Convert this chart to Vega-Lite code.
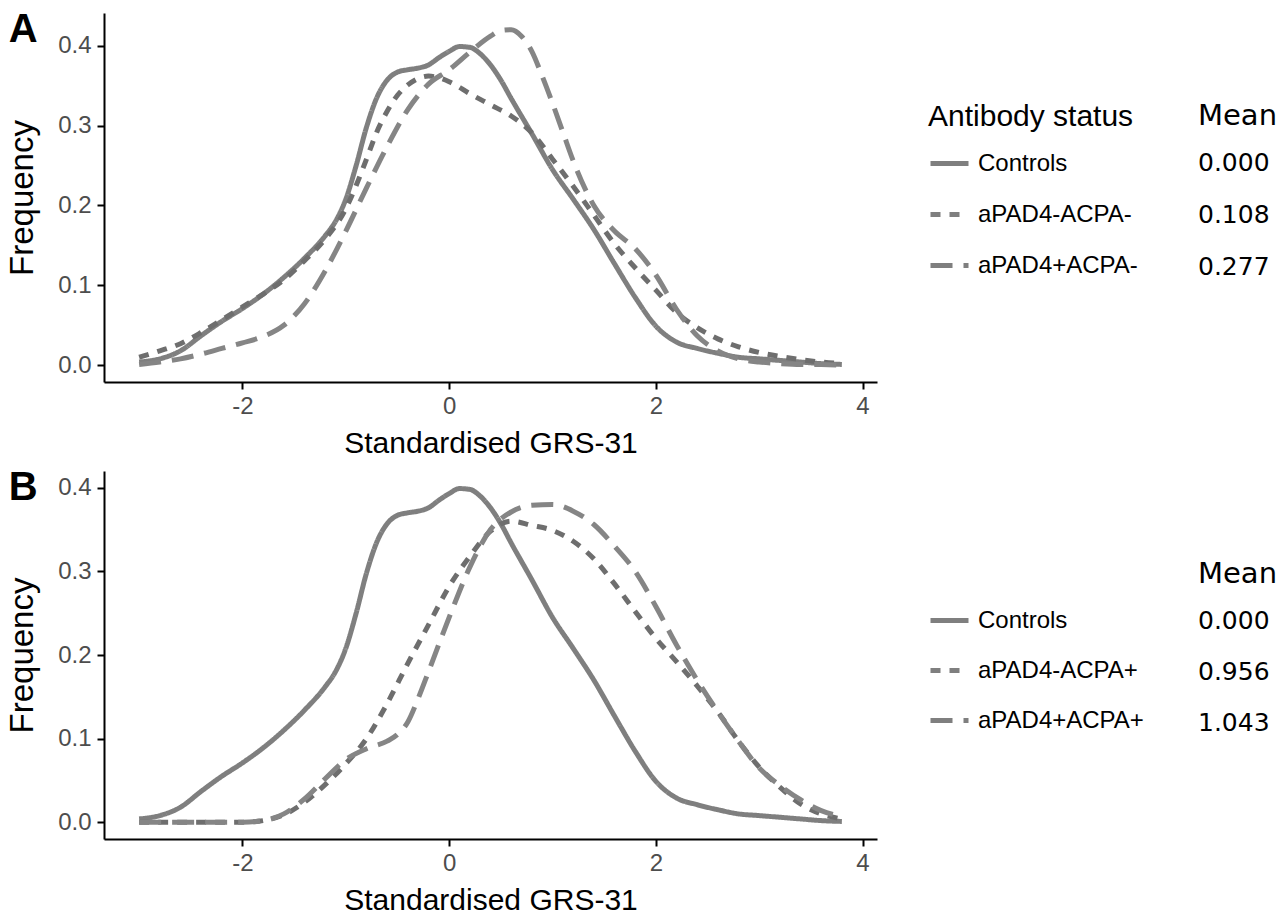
{
  "$schema": "https://vega.github.io/schema/vega-lite/v6.json",
  "background": "white",
  "padding": {"left": 6, "top": 9, "right": 0, "bottom": 0},
  "resolve": {"scale": {"y": "independent", "strokeDash": "independent", "color": "independent"}, "legend": {"strokeDash": "independent", "color": "independent"}},
  "config": {
    "view": {"stroke": null},
    "font": "Liberation Sans",
    "axis": {"domainColor": "black", "domainWidth": 2, "tickColor": "black", "tickWidth": 2, "tickSize": 7, "grid": false, "labelFont": "Liberation Sans", "labelFontSize": 24, "labelColor": "#4d4d4d", "titleFont": "Liberation Sans", "titleFontSize": 30, "titleFontWeight": "normal", "titleColor": "black"},
    "legend": {"titleFont": "Liberation Sans", "titleFontSize": 30, "titleFontWeight": "normal", "titleColor": "black", "titleLimit": 400, "labelFont": "Liberation Sans", "labelFontSize": 24, "labelColor": "black", "labelLimit": 400, "symbolType": "stroke", "symbolSize": 1444, "symbolStrokeWidth": 5, "symbolStrokeColor": "#7f7f7f", "rowPadding": 17, "titlePadding": 10, "labelOffset": 7},
    "concat": {"spacing": 9}
  },
  "datasets": {
    "meansA": [{"g": "Controls", "mean": "0.000"}, {"g": "aPAD4-ACPA-", "mean": "0.108"}, {"g": "aPAD4+ACPA-", "mean": "0.277"}],
    "meansB": [{"g": "Controls", "mean": "0.000"}, {"g": "aPAD4-ACPA+", "mean": "0.956"}, {"g": "aPAD4+ACPA+", "mean": "1.043"}],
    "curves": [
      {"p":"A","g":"Controls","x":-3.0,"y":0.004},{"p":"A","g":"Controls","x":-2.8,"y":0.008},{"p":"A","g":"Controls","x":-2.6,"y":0.018},{"p":"A","g":"Controls","x":-2.4,"y":0.037},{"p":"A","g":"Controls","x":-2.2,"y":0.055},{"p":"A","g":"Controls","x":-2.0,"y":0.071},{"p":"A","g":"Controls","x":-1.8,"y":0.089},{"p":"A","g":"Controls","x":-1.6,"y":0.110},{"p":"A","g":"Controls","x":-1.4,"y":0.134},{"p":"A","g":"Controls","x":-1.2,"y":0.162},{"p":"A","g":"Controls","x":-1.1,"y":0.180},{"p":"A","g":"Controls","x":-1.0,"y":0.208},{"p":"A","g":"Controls","x":-0.9,"y":0.250},{"p":"A","g":"Controls","x":-0.8,"y":0.298},{"p":"A","g":"Controls","x":-0.7,"y":0.335},{"p":"A","g":"Controls","x":-0.6,"y":0.357},{"p":"A","g":"Controls","x":-0.5,"y":0.367},{"p":"A","g":"Controls","x":-0.4,"y":0.370},{"p":"A","g":"Controls","x":-0.3,"y":0.372},{"p":"A","g":"Controls","x":-0.2,"y":0.376},{"p":"A","g":"Controls","x":-0.1,"y":0.385},{"p":"A","g":"Controls","x":0.0,"y":0.393},{"p":"A","g":"Controls","x":0.1,"y":0.399},{"p":"A","g":"Controls","x":0.2,"y":0.398},{"p":"A","g":"Controls","x":0.3,"y":0.390},{"p":"A","g":"Controls","x":0.4,"y":0.376},{"p":"A","g":"Controls","x":0.5,"y":0.357},{"p":"A","g":"Controls","x":0.6,"y":0.334},{"p":"A","g":"Controls","x":0.8,"y":0.290},{"p":"A","g":"Controls","x":1.0,"y":0.245},{"p":"A","g":"Controls","x":1.2,"y":0.208},{"p":"A","g":"Controls","x":1.4,"y":0.170},{"p":"A","g":"Controls","x":1.6,"y":0.127},{"p":"A","g":"Controls","x":1.8,"y":0.085},{"p":"A","g":"Controls","x":2.0,"y":0.049},{"p":"A","g":"Controls","x":2.2,"y":0.029},{"p":"A","g":"Controls","x":2.4,"y":0.021},{"p":"A","g":"Controls","x":2.6,"y":0.015},{"p":"A","g":"Controls","x":2.8,"y":0.010},{"p":"A","g":"Controls","x":3.0,"y":0.008},{"p":"A","g":"Controls","x":3.2,"y":0.006},{"p":"A","g":"Controls","x":3.4,"y":0.004},{"p":"A","g":"Controls","x":3.6,"y":0.002},{"p":"A","g":"Controls","x":3.8,"y":0.001},
      {"p":"A","g":"aPAD4-ACPA-","x":-3.0,"y":0.010},{"p":"A","g":"aPAD4-ACPA-","x":-2.8,"y":0.018},{"p":"A","g":"aPAD4-ACPA-","x":-2.6,"y":0.027},{"p":"A","g":"aPAD4-ACPA-","x":-2.4,"y":0.041},{"p":"A","g":"aPAD4-ACPA-","x":-2.2,"y":0.057},{"p":"A","g":"aPAD4-ACPA-","x":-2.0,"y":0.073},{"p":"A","g":"aPAD4-ACPA-","x":-1.8,"y":0.089},{"p":"A","g":"aPAD4-ACPA-","x":-1.6,"y":0.107},{"p":"A","g":"aPAD4-ACPA-","x":-1.4,"y":0.131},{"p":"A","g":"aPAD4-ACPA-","x":-1.2,"y":0.158},{"p":"A","g":"aPAD4-ACPA-","x":-1.0,"y":0.196},{"p":"A","g":"aPAD4-ACPA-","x":-0.9,"y":0.225},{"p":"A","g":"aPAD4-ACPA-","x":-0.8,"y":0.258},{"p":"A","g":"aPAD4-ACPA-","x":-0.7,"y":0.292},{"p":"A","g":"aPAD4-ACPA-","x":-0.6,"y":0.318},{"p":"A","g":"aPAD4-ACPA-","x":-0.5,"y":0.338},{"p":"A","g":"aPAD4-ACPA-","x":-0.4,"y":0.351},{"p":"A","g":"aPAD4-ACPA-","x":-0.3,"y":0.359},{"p":"A","g":"aPAD4-ACPA-","x":-0.2,"y":0.362},{"p":"A","g":"aPAD4-ACPA-","x":-0.1,"y":0.360},{"p":"A","g":"aPAD4-ACPA-","x":0.0,"y":0.355},{"p":"A","g":"aPAD4-ACPA-","x":0.2,"y":0.340},{"p":"A","g":"aPAD4-ACPA-","x":0.4,"y":0.326},{"p":"A","g":"aPAD4-ACPA-","x":0.6,"y":0.312},{"p":"A","g":"aPAD4-ACPA-","x":0.8,"y":0.291},{"p":"A","g":"aPAD4-ACPA-","x":1.0,"y":0.258},{"p":"A","g":"aPAD4-ACPA-","x":1.2,"y":0.224},{"p":"A","g":"aPAD4-ACPA-","x":1.4,"y":0.188},{"p":"A","g":"aPAD4-ACPA-","x":1.6,"y":0.152},{"p":"A","g":"aPAD4-ACPA-","x":1.8,"y":0.122},{"p":"A","g":"aPAD4-ACPA-","x":2.0,"y":0.094},{"p":"A","g":"aPAD4-ACPA-","x":2.2,"y":0.066},{"p":"A","g":"aPAD4-ACPA-","x":2.4,"y":0.047},{"p":"A","g":"aPAD4-ACPA-","x":2.6,"y":0.033},{"p":"A","g":"aPAD4-ACPA-","x":2.8,"y":0.023},{"p":"A","g":"aPAD4-ACPA-","x":3.0,"y":0.016},{"p":"A","g":"aPAD4-ACPA-","x":3.2,"y":0.011},{"p":"A","g":"aPAD4-ACPA-","x":3.4,"y":0.007},{"p":"A","g":"aPAD4-ACPA-","x":3.6,"y":0.004},{"p":"A","g":"aPAD4-ACPA-","x":3.8,"y":0.002},
      {"p":"A","g":"aPAD4+ACPA-","x":-3.0,"y":0.001},{"p":"A","g":"aPAD4+ACPA-","x":-2.8,"y":0.004},{"p":"A","g":"aPAD4+ACPA-","x":-2.6,"y":0.008},{"p":"A","g":"aPAD4+ACPA-","x":-2.4,"y":0.014},{"p":"A","g":"aPAD4+ACPA-","x":-2.2,"y":0.021},{"p":"A","g":"aPAD4+ACPA-","x":-2.0,"y":0.028},{"p":"A","g":"aPAD4+ACPA-","x":-1.8,"y":0.036},{"p":"A","g":"aPAD4+ACPA-","x":-1.6,"y":0.050},{"p":"A","g":"aPAD4+ACPA-","x":-1.4,"y":0.077},{"p":"A","g":"aPAD4+ACPA-","x":-1.2,"y":0.118},{"p":"A","g":"aPAD4+ACPA-","x":-1.0,"y":0.168},{"p":"A","g":"aPAD4+ACPA-","x":-0.8,"y":0.222},{"p":"A","g":"aPAD4+ACPA-","x":-0.6,"y":0.274},{"p":"A","g":"aPAD4+ACPA-","x":-0.4,"y":0.320},{"p":"A","g":"aPAD4+ACPA-","x":-0.2,"y":0.352},{"p":"A","g":"aPAD4+ACPA-","x":0.0,"y":0.370},{"p":"A","g":"aPAD4+ACPA-","x":0.2,"y":0.392},{"p":"A","g":"aPAD4+ACPA-","x":0.4,"y":0.412},{"p":"A","g":"aPAD4+ACPA-","x":0.5,"y":0.419},{"p":"A","g":"aPAD4+ACPA-","x":0.6,"y":0.420},{"p":"A","g":"aPAD4+ACPA-","x":0.7,"y":0.412},{"p":"A","g":"aPAD4+ACPA-","x":0.8,"y":0.393},{"p":"A","g":"aPAD4+ACPA-","x":0.9,"y":0.362},{"p":"A","g":"aPAD4+ACPA-","x":1.0,"y":0.328},{"p":"A","g":"aPAD4+ACPA-","x":1.1,"y":0.292},{"p":"A","g":"aPAD4+ACPA-","x":1.2,"y":0.256},{"p":"A","g":"aPAD4+ACPA-","x":1.4,"y":0.200},{"p":"A","g":"aPAD4+ACPA-","x":1.6,"y":0.168},{"p":"A","g":"aPAD4+ACPA-","x":1.8,"y":0.146},{"p":"A","g":"aPAD4+ACPA-","x":2.0,"y":0.113},{"p":"A","g":"aPAD4+ACPA-","x":2.2,"y":0.070},{"p":"A","g":"aPAD4+ACPA-","x":2.4,"y":0.037},{"p":"A","g":"aPAD4+ACPA-","x":2.6,"y":0.018},{"p":"A","g":"aPAD4+ACPA-","x":2.8,"y":0.008},{"p":"A","g":"aPAD4+ACPA-","x":3.0,"y":0.004},{"p":"A","g":"aPAD4+ACPA-","x":3.2,"y":0.002},{"p":"A","g":"aPAD4+ACPA-","x":3.4,"y":0.001},{"p":"A","g":"aPAD4+ACPA-","x":3.6,"y":0.001},{"p":"A","g":"aPAD4+ACPA-","x":3.8,"y":0.000},
      {"p":"B","g":"Controls","x":-3.0,"y":0.004},{"p":"B","g":"Controls","x":-2.8,"y":0.008},{"p":"B","g":"Controls","x":-2.6,"y":0.018},{"p":"B","g":"Controls","x":-2.4,"y":0.037},{"p":"B","g":"Controls","x":-2.2,"y":0.055},{"p":"B","g":"Controls","x":-2.0,"y":0.071},{"p":"B","g":"Controls","x":-1.8,"y":0.089},{"p":"B","g":"Controls","x":-1.6,"y":0.110},{"p":"B","g":"Controls","x":-1.4,"y":0.134},{"p":"B","g":"Controls","x":-1.2,"y":0.162},{"p":"B","g":"Controls","x":-1.1,"y":0.180},{"p":"B","g":"Controls","x":-1.0,"y":0.208},{"p":"B","g":"Controls","x":-0.9,"y":0.250},{"p":"B","g":"Controls","x":-0.8,"y":0.298},{"p":"B","g":"Controls","x":-0.7,"y":0.335},{"p":"B","g":"Controls","x":-0.6,"y":0.357},{"p":"B","g":"Controls","x":-0.5,"y":0.367},{"p":"B","g":"Controls","x":-0.4,"y":0.370},{"p":"B","g":"Controls","x":-0.3,"y":0.372},{"p":"B","g":"Controls","x":-0.2,"y":0.376},{"p":"B","g":"Controls","x":-0.1,"y":0.385},{"p":"B","g":"Controls","x":0.0,"y":0.393},{"p":"B","g":"Controls","x":0.1,"y":0.399},{"p":"B","g":"Controls","x":0.2,"y":0.398},{"p":"B","g":"Controls","x":0.3,"y":0.390},{"p":"B","g":"Controls","x":0.4,"y":0.376},{"p":"B","g":"Controls","x":0.5,"y":0.357},{"p":"B","g":"Controls","x":0.6,"y":0.334},{"p":"B","g":"Controls","x":0.8,"y":0.290},{"p":"B","g":"Controls","x":1.0,"y":0.245},{"p":"B","g":"Controls","x":1.2,"y":0.208},{"p":"B","g":"Controls","x":1.4,"y":0.170},{"p":"B","g":"Controls","x":1.6,"y":0.127},{"p":"B","g":"Controls","x":1.8,"y":0.085},{"p":"B","g":"Controls","x":2.0,"y":0.049},{"p":"B","g":"Controls","x":2.2,"y":0.029},{"p":"B","g":"Controls","x":2.4,"y":0.021},{"p":"B","g":"Controls","x":2.6,"y":0.015},{"p":"B","g":"Controls","x":2.8,"y":0.010},{"p":"B","g":"Controls","x":3.0,"y":0.008},{"p":"B","g":"Controls","x":3.2,"y":0.006},{"p":"B","g":"Controls","x":3.4,"y":0.004},{"p":"B","g":"Controls","x":3.6,"y":0.002},{"p":"B","g":"Controls","x":3.8,"y":0.001},
      {"p":"B","g":"aPAD4-ACPA+","x":-3.0,"y":0},{"p":"B","g":"aPAD4-ACPA+","x":-2.6,"y":0},{"p":"B","g":"aPAD4-ACPA+","x":-2.2,"y":0},{"p":"B","g":"aPAD4-ACPA+","x":-2.0,"y":0.000},{"p":"B","g":"aPAD4-ACPA+","x":-1.8,"y":0.002},{"p":"B","g":"aPAD4-ACPA+","x":-1.6,"y":0.009},{"p":"B","g":"aPAD4-ACPA+","x":-1.4,"y":0.024},{"p":"B","g":"aPAD4-ACPA+","x":-1.2,"y":0.045},{"p":"B","g":"aPAD4-ACPA+","x":-1.0,"y":0.070},{"p":"B","g":"aPAD4-ACPA+","x":-0.8,"y":0.100},{"p":"B","g":"aPAD4-ACPA+","x":-0.6,"y":0.142},{"p":"B","g":"aPAD4-ACPA+","x":-0.4,"y":0.190},{"p":"B","g":"aPAD4-ACPA+","x":-0.2,"y":0.236},{"p":"B","g":"aPAD4-ACPA+","x":0.0,"y":0.282},{"p":"B","g":"aPAD4-ACPA+","x":0.2,"y":0.318},{"p":"B","g":"aPAD4-ACPA+","x":0.4,"y":0.348},{"p":"B","g":"aPAD4-ACPA+","x":0.6,"y":0.360},{"p":"B","g":"aPAD4-ACPA+","x":0.8,"y":0.355},{"p":"B","g":"aPAD4-ACPA+","x":1.0,"y":0.349},{"p":"B","g":"aPAD4-ACPA+","x":1.2,"y":0.336},{"p":"B","g":"aPAD4-ACPA+","x":1.4,"y":0.315},{"p":"B","g":"aPAD4-ACPA+","x":1.6,"y":0.285},{"p":"B","g":"aPAD4-ACPA+","x":1.8,"y":0.252},{"p":"B","g":"aPAD4-ACPA+","x":2.0,"y":0.220},{"p":"B","g":"aPAD4-ACPA+","x":2.2,"y":0.192},{"p":"B","g":"aPAD4-ACPA+","x":2.4,"y":0.163},{"p":"B","g":"aPAD4-ACPA+","x":2.6,"y":0.132},{"p":"B","g":"aPAD4-ACPA+","x":2.8,"y":0.097},{"p":"B","g":"aPAD4-ACPA+","x":3.0,"y":0.066},{"p":"B","g":"aPAD4-ACPA+","x":3.2,"y":0.042},{"p":"B","g":"aPAD4-ACPA+","x":3.4,"y":0.022},{"p":"B","g":"aPAD4-ACPA+","x":3.6,"y":0.010},{"p":"B","g":"aPAD4-ACPA+","x":3.8,"y":0.004},
      {"p":"B","g":"aPAD4+ACPA+","x":-3.0,"y":0},{"p":"B","g":"aPAD4+ACPA+","x":-2.6,"y":0},{"p":"B","g":"aPAD4+ACPA+","x":-2.2,"y":0},{"p":"B","g":"aPAD4+ACPA+","x":-2.0,"y":0.000},{"p":"B","g":"aPAD4+ACPA+","x":-1.8,"y":0.002},{"p":"B","g":"aPAD4+ACPA+","x":-1.6,"y":0.010},{"p":"B","g":"aPAD4+ACPA+","x":-1.4,"y":0.028},{"p":"B","g":"aPAD4+ACPA+","x":-1.2,"y":0.052},{"p":"B","g":"aPAD4+ACPA+","x":-1.0,"y":0.075},{"p":"B","g":"aPAD4+ACPA+","x":-0.8,"y":0.088},{"p":"B","g":"aPAD4+ACPA+","x":-0.6,"y":0.097},{"p":"B","g":"aPAD4+ACPA+","x":-0.5,"y":0.105},{"p":"B","g":"aPAD4+ACPA+","x":-0.4,"y":0.120},{"p":"B","g":"aPAD4+ACPA+","x":-0.3,"y":0.148},{"p":"B","g":"aPAD4+ACPA+","x":-0.2,"y":0.180},{"p":"B","g":"aPAD4+ACPA+","x":0.0,"y":0.245},{"p":"B","g":"aPAD4+ACPA+","x":0.2,"y":0.305},{"p":"B","g":"aPAD4+ACPA+","x":0.4,"y":0.350},{"p":"B","g":"aPAD4+ACPA+","x":0.6,"y":0.371},{"p":"B","g":"aPAD4+ACPA+","x":0.8,"y":0.379},{"p":"B","g":"aPAD4+ACPA+","x":1.0,"y":0.380},{"p":"B","g":"aPAD4+ACPA+","x":1.2,"y":0.372},{"p":"B","g":"aPAD4+ACPA+","x":1.4,"y":0.356},{"p":"B","g":"aPAD4+ACPA+","x":1.6,"y":0.330},{"p":"B","g":"aPAD4+ACPA+","x":1.8,"y":0.300},{"p":"B","g":"aPAD4+ACPA+","x":2.0,"y":0.258},{"p":"B","g":"aPAD4+ACPA+","x":2.2,"y":0.212},{"p":"B","g":"aPAD4+ACPA+","x":2.4,"y":0.170},{"p":"B","g":"aPAD4+ACPA+","x":2.6,"y":0.132},{"p":"B","g":"aPAD4+ACPA+","x":2.8,"y":0.097},{"p":"B","g":"aPAD4+ACPA+","x":3.0,"y":0.065},{"p":"B","g":"aPAD4+ACPA+","x":3.2,"y":0.044},{"p":"B","g":"aPAD4+ACPA+","x":3.4,"y":0.027},{"p":"B","g":"aPAD4+ACPA+","x":3.6,"y":0.014},{"p":"B","g":"aPAD4+ACPA+","x":3.8,"y":0.007}
    ]
  },
  "vconcat": [
    {
      "title": {"text": "A", "anchor": "start", "frame": "bounds", "offset": -36.5, "dx": 2, "fontSize": 40, "font": "Liberation Sans", "fontWeight": "bold", "color": "black"},
      "width": 773,
      "height": 369,
      "data": {"name": "curves"},
      "transform": [
        {"filter": "datum.p === 'A'"},
        {"lookup": "g", "from": {"data": {"name": "meansA"}, "key": "g", "fields": ["mean"]}}
      ],
      "mark": {"type": "line", "strokeWidth": 5, "interpolate": "monotone", "strokeCap": "butt"},
      "encoding": {
        "x": {"field": "x", "type": "quantitative", "scale": {"domain": [-3.34, 4.14], "nice": false, "zero": false}, "axis": {"values": [-2, 0, 2, 4], "labelExpr": "'' + datum.value", "title": "Standardised GRS-31", "labelPadding": 5, "titlePadding": 10}},
        "y": {"field": "y", "type": "quantitative", "scale": {"domain": [-0.021, 0.441], "nice": false, "zero": false}, "axis": {"values": [0, 0.1, 0.2, 0.3, 0.4], "format": ".1f", "title": "Frequency", "titleFontSize": 33, "labelPadding": 6, "titlePadding": 18}},
        "strokeDash": {"field": "g", "type": "nominal", "scale": {"domain": ["Controls", "aPAD4-ACPA-", "aPAD4+ACPA-"], "range": [[1, 0], [10, 9], [22, 11]]}, "legend": {"orient": "none", "legendX": 824, "legendY": 89, "title": "Antibody status"}},
        "color": {"field": "mean", "type": "nominal", "scale": {"domain": ["0.000", "0.108", "0.277"], "range": ["#7f7f7f", "#6e6e6e", "#858585"]}, "legend": {"orient": "none", "legendX": 1094, "legendY": 89, "title": "Mean", "titleFont": "DejaVu Sans", "titleFontSize": 29, "labelFont": "DejaVu Sans", "labelFontSize": 25, "symbolOpacity": 0, "labelOffset": -43}}
      }
    },
    {
      "title": {"text": "B", "anchor": "start", "frame": "bounds", "offset": -36.5, "dx": 2, "fontSize": 40, "font": "Liberation Sans", "fontWeight": "bold", "color": "black"},
      "width": 773,
      "height": 368,
      "data": {"name": "curves"},
      "transform": [
        {"filter": "datum.p === 'B'"},
        {"lookup": "g", "from": {"data": {"name": "meansB"}, "key": "g", "fields": ["mean"]}}
      ],
      "mark": {"type": "line", "strokeWidth": 5, "interpolate": "monotone", "strokeCap": "butt"},
      "encoding": {
        "x": {"field": "x", "type": "quantitative", "scale": {"domain": [-3.34, 4.14], "nice": false, "zero": false}, "axis": {"values": [-2, 0, 2, 4], "labelExpr": "'' + datum.value", "title": "Standardised GRS-31", "labelPadding": 5, "titlePadding": 10}},
        "y": {"field": "y", "type": "quantitative", "scale": {"domain": [-0.02, 0.42], "nice": false, "zero": false}, "axis": {"values": [0, 0.1, 0.2, 0.3, 0.4], "format": ".1f", "title": "Frequency", "titleFontSize": 33, "labelPadding": 6, "titlePadding": 18}},
        "strokeDash": {"field": "g", "type": "nominal", "scale": {"domain": ["Controls", "aPAD4-ACPA+", "aPAD4+ACPA+"], "range": [[1, 0], [10, 9], [22, 11]]}, "legend": {"orient": "none", "legendX": 824, "legendY": 128, "rowPadding": 16, "title": null}},
        "color": {"field": "mean", "type": "nominal", "scale": {"domain": ["0.000", "0.956", "1.043"], "range": ["#7f7f7f", "#6e6e6e", "#858585"]}, "legend": {"orient": "none", "legendX": 1094, "legendY": 89, "title": "Mean", "titleFont": "DejaVu Sans", "titleFontSize": 29, "titlePadding": 10, "rowPadding": 16, "labelFont": "DejaVu Sans", "labelFontSize": 25, "symbolOpacity": 0, "labelOffset": -43}}
      }
    }
  ]
}
